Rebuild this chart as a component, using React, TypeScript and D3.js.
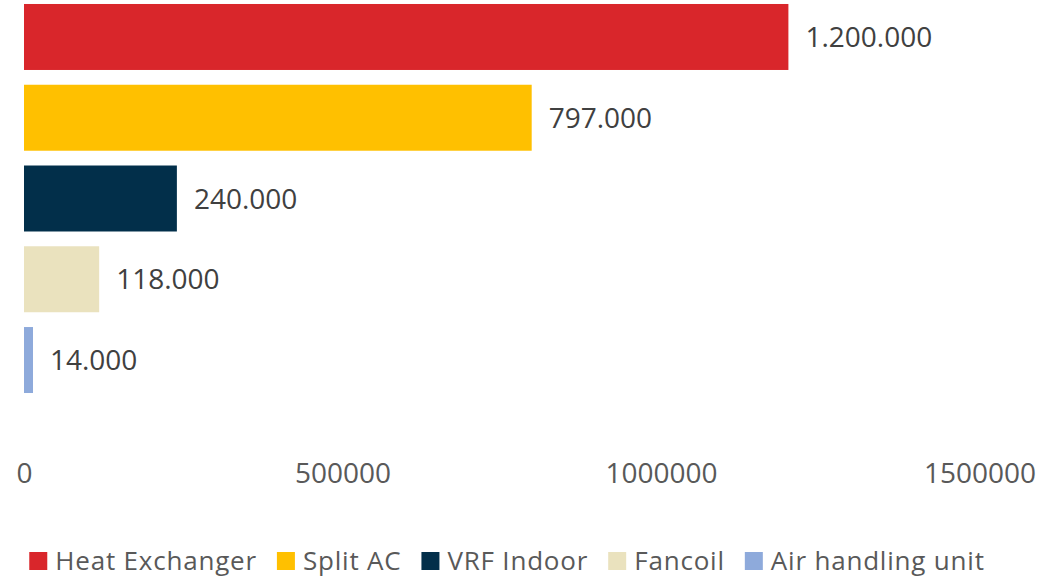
import React, { useEffect, useRef, useState } from "react";
import * as d3 from "d3";

const width = 1038;
const height = 578;
const font = "'Open Sans', 'Noto Sans', sans-serif";

const categories = ["Heat Exchanger", "Split AC", "VRF Indoor", "Fancoil", "Air handling unit"];
const values = [1200000, 797000, 240000, 118000, 14000];
const colors = ["#D9262B", "#FFC000", "#022F4A", "#EAE2BE", "#8EAADB"];
const tickValues = [0, 500000, 1000000, 1500000];

const dotLocale = d3.formatLocale({ decimal: ",", thousands: ".", grouping: [3], currency: ["", ""] });
const labelFormat = dotLocale.format(",d");

const x = d3.scaleLinear().domain([0, 1500000]).range([24, 979.5]);
const y = d3
  .scaleBand()
  .domain(categories)
  .range([-3.4, 400.4])
  .paddingInner(0.183)
  .paddingOuter(0.0915);

export default function App() {
  const axisRef = useRef(null);
  const legendRef = useRef(null);
  const [legendX, setLegendX] = useState(categories.map((_, i) => 26 + i * 190));

  useEffect(() => {
    const axis = d3.axisBottom(x).tickValues(tickValues).tickSize(0).tickPadding(0).tickFormat(d3.format("d"));
    const g = d3.select(axisRef.current).call(axis);
    g.select(".domain").remove();
    g.selectAll("text")
      .attr("font-family", font)
      .attr("font-size", 28)
      .attr("fill", "#595959")
      .attr("dy", null)
      .attr("y", 0);
  }, []);

  // lay legend items out from their measured text widths, centred
  useEffect(() => {
    const texts = d3.select(legendRef.current).selectAll("text").nodes();
    const itemW = texts.map((t) => 26 + t.getComputedTextLength());
    const total = d3.sum(itemW) + 20 * (itemW.length - 1);
    let cur = 507 - total / 2;
    const xs = itemW.map((w) => {
      const p = cur;
      cur += w + 20;
      return p;
    });
    setLegendX(xs);
  }, []);

  return (
    <svg width={width} height={height} style={{ position: "absolute", left: 0, top: 0, background: "#fff" }}>
      {values.map((v, i) => (
        <g key={categories[i]}>
          <rect
            x={x(0)}
            y={y(categories[i])}
            width={Math.max(x(v) - x(0), 9)}
            height={y.bandwidth()}
            fill={colors[i]}
          />
          <text
            x={x(v) + 17}
            y={y(categories[i]) + y.bandwidth() / 2 + 10}
            fontFamily={font}
            fontSize={28}
            fill="#404040"
          >
            {labelFormat(v)}
          </text>
        </g>
      ))}
      <g ref={axisRef} transform="translate(0, 483)" />
      <g ref={legendRef}>
        {categories.map((c, i) => (
          <g key={c} transform={`translate(${legendX[i]}, 0)`}>
            <rect x={0} y={552} width={18} height={18} fill={colors[i]} />
            <text x={26} y={570} fontFamily={font} fontSize={26} letterSpacing={0.8} fill="#595959">
              {c}
            </text>
          </g>
        ))}
      </g>
    </svg>
  );
}
